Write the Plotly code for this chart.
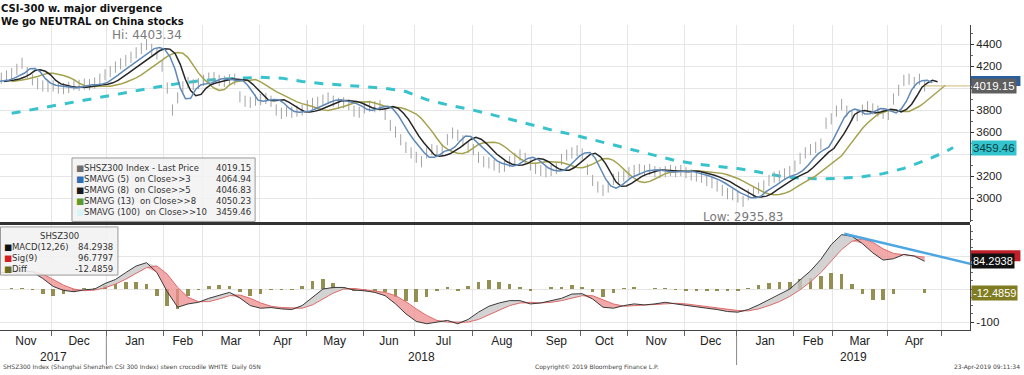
import numpy as np
import pandas as pd
import plotly.graph_objects as go

# ---------------- data ----------------
cn_holidays = ["2018-01-01", "2018-02-15", "2018-02-16", "2018-02-19", "2018-02-20", "2018-02-21",
               "2018-04-05", "2018-04-06", "2018-04-30", "2018-05-01", "2018-06-18", "2018-09-24",
               "2018-10-01", "2018-10-02", "2018-10-03", "2018-10-04", "2018-10-05", "2018-12-31",
               "2019-01-01", "2019-02-04", "2019-02-05", "2019-02-06", "2019-02-07", "2019-02-08",
               "2019-04-05", "2019-05-01", "2019-05-02", "2019-05-03", "2019-06-07"]
sessions = pd.bdate_range("2017-10-30", "2019-06-28", freq="C", holidays=cn_holidays)

# SHSZ300 close, every 2nd session from 30-Oct-2017
price_close = [
    4060, 4070, 4090, 4110, 4130, 4170, 4225, 4140, 4075, 4040,
    4020, 4015, 4020, 4000, 3995, 4005, 4030, 4025, 4035, 4030,
    4045, 4080, 4120, 4150, 4190, 4220, 4250, 4280, 4320, 4360,
    4395, 4350, 4310, 4200, 4000, 3800, 3910, 4010, 4050, 4030,
    4040, 4070, 4090, 4095, 4070, 4060, 4075, 4080, 3920, 3880,
    3870, 3890, 3895, 3905, 3880, 3800, 3770, 3790, 3780, 3790,
    3800, 3840, 3860, 3870, 3890, 3910, 3880, 3860, 3865, 3850,
    3790, 3780, 3820, 3835, 3830, 3840, 3760, 3660, 3600, 3530,
    3460, 3410, 3370, 3330, 3410, 3440, 3430, 3440, 3530, 3590,
    3570, 3520, 3460, 3440, 3370, 3330, 3320, 3300, 3280, 3290,
    3330, 3360, 3390, 3360, 3300, 3270, 3250, 3240, 3250, 3270,
    3350, 3390, 3410, 3430, 3400, 3260, 3160, 3100, 3070, 3100,
    3170, 3190, 3200, 3230, 3250, 3260, 3250, 3260, 3240, 3230,
    3240, 3250, 3240, 3250, 3230, 3210, 3200, 3190, 3160, 3140,
    3110, 3070, 3040, 3030, 3010, 2970, 3030, 3060, 3090, 3110,
    3160, 3190, 3200, 3220, 3240, 3290, 3360, 3410, 3440, 3460,
    3490, 3680, 3720, 3790, 3850, 3790, 3750, 3750, 3800, 3830,
    3810, 3790, 3770, 3760, 3900, 3980, 4070, 4080, 4050, 4080,
    4019.15]

# SMAVG(100) on Close>>10 (session index, value)
sma100_idx = [8, 16, 24, 32, 40, 48, 56, 64, 72, 80, 88, 96, 104, 112, 120, 128, 136, 144,
              152, 160, 168, 176, 184, 192, 200, 208, 216, 224, 232, 240, 248, 256, 264, 272,
              280, 288, 296, 304, 312, 320, 328, 336, 344, 352, 360, 368, 371]
sma100_val = [3770, 3805, 3838, 3873, 3907, 3941, 3976, 4009, 4040, 4065, 4080, 4090, 4098,
              4090, 4060, 4040, 4025, 4012, 3998, 3968, 3895, 3848, 3810, 3765, 3715, 3666,
              3620, 3578, 3532, 3480, 3435, 3388, 3340, 3310, 3288, 3268, 3236, 3200, 3180,
              3173, 3180, 3193, 3222, 3270, 3340, 3420, 3459.46]

# MACD(12,26) and Sig(9), every 4th session
macd_line = [45, 50, 54, 56, 52, 32, 8, -4, -8, -2,
             0, 17, 29, 50, 70, 80, 50, -8, -55, -45,
             -40, -28, -19, -10, -27, -50, -58, -56, -60, -62,
             -50, -25, 0, 5, 5, -3, -5, -10, -20, -45,
             -75, -98, -105, -100, -95, -105, -92, -70, -52, -42,
             -35, -35, -45, -42, -35, -28, -15, -14, -30, -55,
             -58, -50, -45, -48, -45, -40, -45, -50, -55, -58,
             -62, -68, -70, -62, -48, -32, -18, 0, 28, 55,
             90, 135, 165, 160, 138, 110, 88, 92, 105, 100,
             84.2938]
sig_line = [50, 50, 51, 53, 54, 46, 30, 12, 0, -5,
            -3, 4, 15, 30, 48, 65, 70, 45, 5, -25,
            -38, -38, -30, -20, -18, -28, -42, -52, -56, -58,
            -58, -48, -30, -12, 0, 2, -2, -5, -10, -20,
            -38, -60, -80, -95, -100, -100, -100, -92, -78, -62,
            -50, -42, -40, -42, -40, -35, -27, -20, -20, -32,
            -45, -52, -50, -48, -47, -44, -43, -45, -49, -53,
            -57, -61, -65, -66, -60, -50, -38, -22, -2, 22,
            50, 85, 120, 145, 152, 142, 122, 108, 104, 101,
            96.7797]

trend_idx = [329, 378]
trend_val = [168, 76]

hi_idx, hi_value = 60, 4403.34
lo_idx, lo_value = 290, 2935.83

legend_names = ["SHSZ300 Index - Last Price", "SMAVG (5)  on Close>>3", "SMAVG (8)  on Close>>5",
                "SMAVG (13)  on Close>>8", "SMAVG (100)  on Close>>10"]
legend_values = ["4019.15", "4064.94", "4046.83", "4050.23", "3459.46"]
legend_marks = ["#6e6e6e", "#2f6db5", "#1a1a1a", "#5f9a2a", "#d8f4f6"]

top_ticks = [3000, 3200, 3400, 3600, 3800, 4000, 4200, 4400]
top_ticktext = ["3000", "3200", "", "3600", "3800", "", "4200", "4400"]
bot_ticks = [-100, 0, 100]
bot_ticktext = ["-100", "", ""]

# ---------------- derived ----------------
price_x = np.arange(len(price_close)) * 2
ps = pd.Series(price_close, dtype=float)
sma5 = ps.rolling(3, min_periods=1).mean()
sma8 = ps.rolling(4, min_periods=1).mean()
sma13 = ps.rolling(7, min_periods=1).mean()

macd_x = np.arange(len(macd_line)) * 4
macd_a = np.array(macd_line, dtype=float)
sig_a = np.array(sig_line, dtype=float)
diff_a = macd_a - sig_a

X0, X1 = 3.5, 377.5
last_idx = int(price_x[-1]) + 1

# month ticks
sidx = np.arange(len(sessions))
per = sessions.to_period("M")
month_starts, month_centers, month_names = [], [], []
year_bounds = []
for p in per.unique():
    m = sidx[per == p]
    a, b = m[0] - 0.5, m[-1] + 0.5
    if a > X0 and a < X1:
        month_starts.append(a)
        if p.month == 1:
            year_bounds.append(a)
    if m[0] > last_idx:
        continue
    lo, hi = max(a, X0), min(b, X1)
    if hi - lo > 3:
        month_centers.append((lo + hi) / 2)
        month_names.append(p.strftime("%b"))

years = [("2017", X0, year_bounds[0]), ("2018", year_bounds[0], year_bounds[1]),
         ("2019", year_bounds[1], X1)]

# ---------------- figure ----------------
fig = go.Figure()
GRID = "#e6e6e6"

# top panel
fig.add_trace(go.Scatter(x=sma100_idx, y=sma100_val, mode="lines", xaxis="x2", yaxis="y",
                         line=dict(color="#38c2cb", width=3, dash="dash")))
fig.add_trace(go.Scatter(x=price_x, y=price_close, mode="markers", xaxis="x2", yaxis="y",
                         marker=dict(symbol="line-ns", size=8,
                                     line=dict(color="#a2a2a2", width=1))))
fig.add_trace(go.Scatter(x=price_x + 8, y=sma13, mode="lines", xaxis="x2", yaxis="y",
                         line=dict(color="#a4a24c", width=1.5)))
fig.add_trace(go.Scatter(x=price_x + 5, y=sma8, mode="lines", xaxis="x2", yaxis="y",
                         line=dict(color="#262626", width=1.5)))
fig.add_trace(go.Scatter(x=price_x + 3, y=sma5, mode="lines", xaxis="x2", yaxis="y",
                         line=dict(color="#5d88b8", width=1.5)))
fig.add_trace(go.Scatter(x=[price_x[-1], X1], y=[price_close[-1], price_close[-1]], mode="lines",
                         xaxis="x2", yaxis="y", line=dict(color="#cdb878", width=1)))

# bottom panel
fig.add_trace(go.Bar(x=macd_x, y=diff_a, xaxis="x", yaxis="y2", width=1.4,
                     marker=dict(color="rgba(128,124,50,0.85)", line=dict(width=0))))
fig.add_trace(go.Scatter(x=macd_x, y=sig_a, mode="lines", xaxis="x", yaxis="y2",
                         line=dict(width=0), hoverinfo="skip"))
fig.add_trace(go.Scatter(x=macd_x, y=np.minimum(macd_a, sig_a), mode="lines", xaxis="x", yaxis="y2",
                         fill="tonexty", fillcolor="rgba(236,140,140,0.75)", line=dict(width=0)))
fig.add_trace(go.Scatter(x=macd_x, y=sig_a, mode="lines", xaxis="x", yaxis="y2",
                         line=dict(width=0), hoverinfo="skip"))
fig.add_trace(go.Scatter(x=macd_x, y=np.maximum(macd_a, sig_a), mode="lines", xaxis="x", yaxis="y2",
                         fill="tonexty", fillcolor="rgba(200,200,200,0.8)", line=dict(width=0)))
fig.add_trace(go.Scatter(x=macd_x, y=sig_a, mode="lines", xaxis="x", yaxis="y2",
                         line=dict(color="#e06a6a", width=1)))
fig.add_trace(go.Scatter(x=macd_x, y=macd_a, mode="lines", xaxis="x", yaxis="y2",
                         line=dict(color="#3a3a3a", width=1)))
fig.add_trace(go.Scatter(x=trend_idx, y=trend_val, mode="lines", xaxis="x", yaxis="y2",
                         line=dict(color="#4ea6e2", width=2.5)))

TICKFONT = dict(family="Liberation Sans", size=12, color="#222")
YFONT = dict(family="Liberation Sans", size=11.5, color="#222")

fig.update_layout(
    width=1024, height=375, margin=dict(l=0, r=54, t=25, b=45, autoexpand=False),
    paper_bgcolor="white", plot_bgcolor="white", showlegend=False, bargap=0,
    xaxis=dict(domain=[0, 1], anchor="y2", range=[X0, X1], tickmode="array", automargin=False,
               tickvals=month_centers, ticktext=month_names, ticks="", showgrid=False,
               tickfont=TICKFONT, showline=True, linecolor="#444", linewidth=1, zeroline=False,
               minor=dict(tickmode="array", tickvals=month_starts, ticks="outside", ticklen=5,
                          tickcolor="#666", showgrid=True, gridcolor=GRID, gridwidth=1)),
    xaxis2=dict(domain=[0, 1], anchor="y", matches="x", range=[X0, X1], showticklabels=False,
                ticks="", showgrid=False, zeroline=False, showline=False, automargin=False,
                minor=dict(tickmode="array", tickvals=month_starts, ticks="",
                           showgrid=True, gridcolor=GRID, gridwidth=1)),
    yaxis=dict(domain=[0.354, 1], anchor="x2", side="right", range=[2782, 4573], automargin=False,
               tickmode="array", tickvals=top_ticks, ticktext=top_ticktext,
               ticks="outside", ticklen=3, tickcolor="#333", showgrid=True, gridcolor=GRID,
               showline=True, linecolor="#444", zeroline=False, tickfont=YFONT,
               minor=dict(dtick=100, ticks="outside", ticklen=2, tickcolor="#666")),
    yaxis2=dict(domain=[0, 0.344], anchor="x", side="right", range=[-124, 194], automargin=False,
                tickmode="array", tickvals=bot_ticks, ticktext=bot_ticktext, ticks="outside", ticklen=3,
                tickcolor="#333", showgrid=True, gridcolor=GRID, showline=True, linecolor="#444",
                zeroline=False, tickfont=YFONT,
                minor=dict(dtick=25, ticks="outside", ticklen=2, tickcolor="#666")),
)

shapes = [dict(type="line", xref="paper", yref="paper", x0=0, x1=1, y0=0.349, y1=0.349,
               line=dict(color="#333", width=3))]
for yb in year_bounds:
    shapes.append(dict(type="line", xref="x", yref="paper", x0=yb, x1=yb, y0=-0.02, y1=-0.115,
                       line=dict(color="#888", width=1)))
# legend boxes
shapes.append(dict(type="rect", xref="paper", yref="paper", x0=0.0742, x1=0.263, y0=0.356, y1=0.564,
                   fillcolor="rgba(242,242,242,0.88)", line=dict(color="#9a9a9a", width=1)))
shapes.append(dict(type="rect", xref="paper", yref="paper", x0=0.0005, x1=0.1216, y0=0.180, y1=0.338,
                   fillcolor="rgba(242,242,242,0.9)", line=dict(color="#9a9a9a", width=1)))
# value boxes partly hidden behind the front ones (SMA5 blue, Sig red)
shapes.append(dict(type="rect", xref="paper", yref="y", x0=1.001, x1=1.052,
                   y0=price_close[-1], y1=float(legend_values[1]) + 45,
                   fillcolor="#2a5f9e", line=dict(width=0)))
shapes.append(dict(type="rect", xref="paper", yref="y2", x0=1.001, x1=1.052,
                   y0=macd_line[-1], y1=sig_line[-1] + 21,
                   fillcolor="#c0202a", line=dict(width=0)))
fig.update_layout(shapes=shapes)

ann = []
ann.append(dict(xref="paper", yref="paper", x=0, y=1.079, xanchor="left", yanchor="top", xshift=-1,
                align="left", showarrow=False,
                text="<b>CSI-300 w. major divergence<br>We go NEUTRAL on China stocks</b>",
                font=dict(family="DejaVu Sans", size=10, color="#111")))
ann.append(dict(xref="x2", yref="y", x=hi_idx, y=hi_value, yanchor="bottom", yshift=0,
                showarrow=False, text=f"Hi: {hi_value:.2f}",
                font=dict(family="DejaVu Sans", size=12, color="#7a7a7a")))
ann.append(dict(xref="x2", yref="y", x=lo_idx, y=lo_value, yanchor="top", yshift=-3,
                showarrow=False, text=f"Low: {lo_value:.2f}",
                font=dict(family="DejaVu Sans", size=12, color="#7a7a7a")))

names_txt = "<br>".join(f"<span style='color:{c}'>■</span>{n}" for c, n in zip(legend_marks, legend_names))
ann.append(dict(xref="paper", yref="paper", x=0.0765, y=0.458, xanchor="left", yanchor="middle",
                align="left", showarrow=False, text=names_txt,
                font=dict(family="DejaVu Sans", size=8.5, color="#333")))
ann.append(dict(xref="paper", yref="paper", x=0.2605, y=0.458, xanchor="right", yanchor="middle",
                align="right", showarrow=False, text="<br>".join(legend_values),
                font=dict(family="DejaVu Sans", size=8.5, color="#333")))

macd_names = ["MACD(12,26)", "Sig(9)", "Diff"]
macd_marks = ["#111111", "#d42020", "#6b6b1a"]
macd_vals = [f"{macd_line[-1]:.4f}", f"{sig_line[-1]:.4f}", f"{macd_line[-1] - sig_line[-1]:.4f}"]
ann.append(dict(xref="paper", yref="paper", x=0.061, y=0.308, xanchor="center", yanchor="middle",
                showarrow=False, text="SHSZ300", font=dict(family="DejaVu Sans", size=8.5, color="#333")))
ann.append(dict(xref="paper", yref="paper", x=0.002, y=0.236, xanchor="left", yanchor="middle",
                align="left", showarrow=False,
                text="<br>".join(f"<span style='color:{c}'>■</span>{n}" for c, n in zip(macd_marks, macd_names)),
                font=dict(family="DejaVu Sans", size=8.5, color="#333")))
ann.append(dict(xref="paper", yref="paper", x=0.119, y=0.236, xanchor="right", yanchor="middle",
                align="right", showarrow=False, text="<br>".join(macd_vals),
                font=dict(family="DejaVu Sans", size=8.5, color="#333")))

def vbox(yref, y, txt, bg, fg, size=11.5):
    return dict(xref="paper", yref=yref, x=1, y=y, xanchor="left", yanchor="middle", xshift=1,
                showarrow=False, text=txt, bgcolor=bg, borderpad=1,
                font=dict(family="Liberation Sans", size=size, color=fg))

ann.append(vbox("y", price_close[-1], legend_values[0], "#5f5f5f", "white"))
ann.append(vbox("y", sma100_val[-1], legend_values[4], "#33c4cd", "#0d3d40"))
ann.append(vbox("y2", macd_line[-1], macd_vals[0], "#111111", "white", 11))
ann.append(vbox("y2", macd_line[-1] - sig_line[-1], macd_vals[2], "#7f7c22", "white", 11))

for name, a, b in years:
    ann.append(dict(xref="x", yref="paper", x=(a + b) / 2, y=-0.088, yanchor="middle",
                    showarrow=False, text=name, font=TICKFONT))

FOOT = dict(family="DejaVu Sans", size=6, color="#444")
ann.append(dict(xref="paper", yref="paper", x=0, y=-0.121, xanchor="left", yanchor="middle",
                xshift=1, showarrow=False,
                text="SHSZ300 Index (Shanghai Shenzhen CSI 300 Index) steen crocodile WHITE  Daily 05N",
                font=FOOT))
ann.append(dict(xref="paper", yref="paper", x=0.615, y=-0.121, xanchor="center", yanchor="middle",
                showarrow=False, text="Copyright© 2019 Bloomberg Finance L.P.", font=FOOT))
ann.append(dict(xref="paper", yref="paper", x=1.054, y=-0.121, xanchor="right", yanchor="middle",
                showarrow=False, text="23-Apr-2019 09:11:34", font=FOOT))
fig.update_layout(annotations=ann)

fig.write_html("out.html", config={"displayModeBar": False},
               post_script="document.body.style.margin='0px';document.body.style.overflow='hidden';")
